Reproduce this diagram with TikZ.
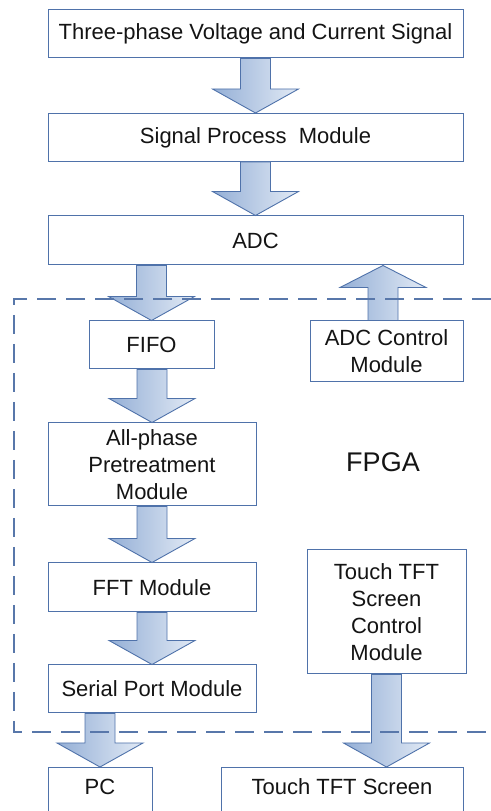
\documentclass[tikz,border=0pt]{standalone}
\usepackage{fontspec}
\setmainfont{Liberation Sans}
\usetikzlibrary{calc}
\definecolor{boxline}{HTML}{4F72AA}
\definecolor{dashline}{HTML}{5877AA}
\definecolor{arrdark}{HTML}{94AFD6}
\definecolor{arrlight}{HTML}{E2EAF5}
\definecolor{txt}{HTML}{141414}
\tikzset{
  blockbox/.style={draw=boxline, line width=1pt, fill=white, minimum height=48pt,
    inner sep=0pt, align=center, text=txt, font=\fontsize{22}{27}\selectfont},
  fatarrow/.style={draw=boxline, line width=0.9pt, left color=arrdark, right color=arrlight, line join=miter},
  fpgaframe/.style={draw=dashline, line width=2.6pt, dash pattern=on 19pt off 10pt}
}
\newcommand{\fatdown}[2]{%
  \path[fatarrow] let \p1=(#1), \p2=(#2) in
    (\x2-15pt,\y1) -- (\x2+15pt,\y1) -- (\x2+15pt,\y2+24pt) -- (\x2+43pt,\y2+24pt)
    -- (\x2,\y2) -- (\x2-43pt,\y2+24pt) -- (\x2-15pt,\y2+24pt) -- cycle;}
\newcommand{\fatup}[2]{%
  \path[fatarrow] let \p1=(#1), \p2=(#2) in
    (\x1-15pt,\y1) -- (\x1+15pt,\y1) -- (\x1+15pt,\y2-22pt) -- (\x1+43pt,\y2-22pt)
    -- (\x1,\y2) -- (\x1-43pt,\y2-22pt) -- (\x1-15pt,\y2-22pt) -- cycle;}
\begin{document}
\begin{tikzpicture}[x=1pt,y=1pt]
\useasboundingbox (0,0) rectangle (490,811);
% nodes
\node[blockbox, minimum width=415pt] (top) at (255.5,777) {Three-phase Voltage and Current Signal};
\node[blockbox, minimum width=415pt] (sp) at (255.5,673.5) {Signal Process~ Module};
\node[blockbox, minimum width=415pt, minimum height=49pt] (adc) at (255.5,570.5) {ADC};
\node[blockbox, minimum width=125pt] (fifo) at (151.5,466) {FIFO};
\node[blockbox, minimum width=153pt, minimum height=61pt] (ctrl) at (386.5,459.5) {ADC Control\\Module};
\node[blockbox, minimum width=208pt, minimum height=83pt] (allp) at (152,346.5) {All-phase\\Pretreatment\\Module};
\node[blockbox, minimum width=208pt, minimum height=49pt] (fft) at (152,223.5) {FFT Module};
\node[blockbox, minimum width=208pt] (serial) at (152,122) {Serial Port Module};
\node[blockbox, minimum width=159pt, minimum height=124pt] (tctrl) at (386.5,199) {Touch TFT\\Screen\\Control\\Module};
\node[blockbox, minimum width=104pt, minimum height=50pt, anchor=north] (pc) at (100,44) {\raisebox{12pt}{PC}};
\node[blockbox, minimum width=242pt, minimum height=50pt, anchor=north] (tft) at (342,44) {\raisebox{12pt}{Touch TFT Screen}};
\node[text=txt, font=\fontsize{27}{32}\selectfont] (fpga) at (383,349) {FPGA};
% arrows
\fatdown{top.south}{sp.north}
\fatdown{sp.south}{adc.north}
\fatdown{adc.south}{fifo.north}
\fatup{ctrl.north -| 383,0}{adc.south -| 383,0}
\fatdown{fifo.south}{allp.north}
\fatdown{allp.south}{fft.north}
\fatdown{fft.south}{serial.north}
\fatdown{serial.south}{pc.north}
\fatdown{tctrl.south}{tctrl.south |- pc.north}
% FPGA frame
\draw[fpgaframe] (520,512) -- (14,512) -- (14,79) -- (520,79);
\end{tikzpicture}
\end{document}
